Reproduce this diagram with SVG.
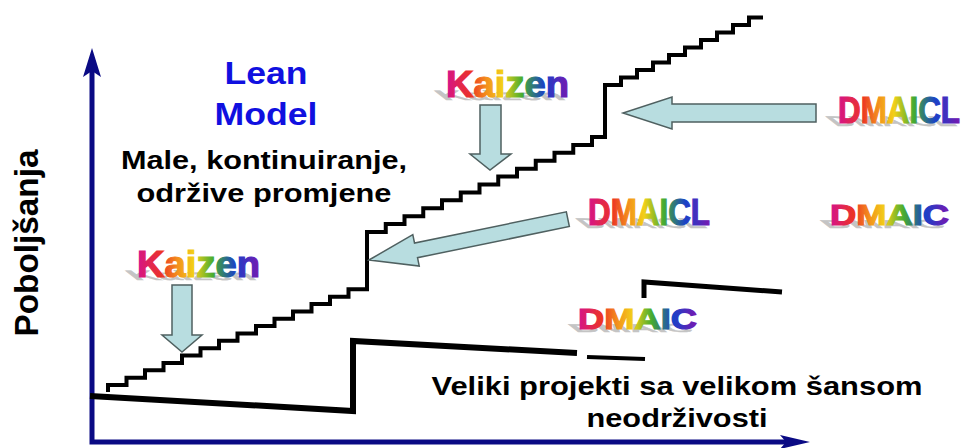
<svg xmlns="http://www.w3.org/2000/svg" xmlns:xlink="http://www.w3.org/1999/xlink" width="963" height="448" viewBox="0 0 963 448">
<defs>
<linearGradient id="rainbow" x1="0" y1="0" x2="1" y2="0">
<stop offset="0" stop-color="#d4128c"/>
<stop offset="0.2" stop-color="#ec3424"/>
<stop offset="0.33" stop-color="#f3901c"/>
<stop offset="0.46" stop-color="#f2d018"/>
<stop offset="0.62" stop-color="#46ac30"/>
<stop offset="0.8" stop-color="#1a40c8"/>
<stop offset="1" stop-color="#7818b0"/>
</linearGradient>
<style>
.axis{stroke:#0a0a84;stroke-width:5;fill:none;stroke-linejoin:miter}
.axhead{fill:#0a0a84}
.stair{fill:none;stroke:#000;stroke-width:4;stroke-linejoin:miter}
.proj{fill:none;stroke:#000;stroke-width:6;stroke-linejoin:miter}
.arrow{fill:#b8dde0;stroke:#4f6060;stroke-width:1.5;stroke-linejoin:miter}
.t{font-family:"Liberation Sans",Arial,sans-serif;font-weight:bold}
.black{fill:#000}
.blue{fill:#1010e0}
.rb{fill:url(#rainbow);stroke:url(#rainbow);stroke-width:1.2}
.sh{fill:#c4c4c4;stroke:#c4c4c4;stroke-width:1}
</style>
<text id="tKaizen" class="t" x="0" y="0" font-size="36" textLength="123" lengthAdjust="spacingAndGlyphs">Kaizen</text>
<text id="tDMAICL" class="t" x="0" y="0" font-size="37" textLength="122" lengthAdjust="spacingAndGlyphs">DMAICL</text>
<text id="tDMAIC" class="t" x="0" y="0" font-size="30" textLength="119" lengthAdjust="spacingAndGlyphs">DMAIC</text>
</defs>
<rect width="963" height="448" fill="#fff"/>

<g id="axes">
<path class="axis" d="M92,70 V442 H790"/>
<path class="axhead" d="M92,48 L101,77 L92,71 L83,77 Z"/>
<path class="axhead" d="M810,442 L780,435 L786,442 L780,449 Z"/>
</g>

<g id="y-label">
<text class="t black" transform="translate(37.5,243) rotate(-90)" text-anchor="middle" font-size="33" textLength="187" lengthAdjust="spacingAndGlyphs">Poboljšanja</text>
</g>

<g id="lean-model">
<text class="t blue" x="266" y="84" text-anchor="middle" font-size="31" textLength="83" lengthAdjust="spacingAndGlyphs">Lean</text>
<text class="t blue" x="266" y="125" text-anchor="middle" font-size="31" textLength="103" lengthAdjust="spacingAndGlyphs">Model</text>
</g>

<g id="lean-desc">
<text class="t black" x="264" y="169" text-anchor="middle" font-size="25" textLength="286" lengthAdjust="spacingAndGlyphs">Male, kontinuiranje,</text>
<text class="t black" x="264" y="202" text-anchor="middle" font-size="25" textLength="255" lengthAdjust="spacingAndGlyphs">održive promjene</text>
</g>

<g id="projects-desc">
<text class="t black" x="677" y="395" text-anchor="middle" font-size="26" textLength="491" lengthAdjust="spacingAndGlyphs">Veliki projekti sa velikom šansom</text>
<text class="t black" x="677" y="427" text-anchor="middle" font-size="26" textLength="181" lengthAdjust="spacingAndGlyphs">neodrživosti</text>
</g>

<g id="lean-staircase">
<path class="stair" d="M108,392 V385 h18.5 v-7.36 h18.5 v-7.36 h18.5 v-7.36 h18.5 v-7.36 h18.5 v-7.36 h18.5 v-7.36 h18.5 v-7.36 h18.5 v-7.36 h18.5 v-7.36 h18.5 v-7.36 h18.5 v-7.36 h18.5 v-7.36 h18.5 v-7.36 h18.5 V232 h18.75 v-7.92 h18.75 v-7.92 h18.75 v-7.92 h18.75 v-7.92 h18.75 v-7.92 h18.75 v-7.92 h18.75 v-7.92 h18.75 v-7.92 h18.75 v-7.92 h18.75 v-7.92 h18.75 v-7.92 h18.75 v-7.92 H605 V85 h16 v-7.5 h16 v-7.5 h16 v-7.5 h16 v-7.5 h16 v-7.5 h16 v-7.5 h16 v-7.5 h16 v-7.5 h16 v-7.5 h14"/>
</g>

<g id="dmaic-projects">
<polyline class="proj" points="90,396 353,411 353,341 577,353"/>
<line x1="587" y1="357" x2="645" y2="359" stroke="#000" stroke-width="4"/>
<polyline class="proj" style="stroke-width:5" points="644,298 644,282 782,292"/>
</g>

<g id="kaizen-1">
<use xlink:href="#tKaizen" class="sh" transform="translate(135,280) skewX(52) scale(1,0.38)"/>
<use xlink:href="#tKaizen" class="rb" transform="translate(137,277)"/>
</g>
<g id="kaizen-2">
<use xlink:href="#tKaizen" class="sh" transform="translate(444,100) skewX(52) scale(1,0.38)"/>
<use xlink:href="#tKaizen" class="rb" transform="translate(446,97)"/>
</g>
<g id="dmaicl-1">
<use xlink:href="#tDMAICL" class="sh" transform="translate(836,126) skewX(52) scale(1,0.38)"/>
<use xlink:href="#tDMAICL" class="rb" transform="translate(838,123)"/>
</g>
<g id="dmaicl-2">
<use xlink:href="#tDMAICL" class="sh" transform="translate(586,228) skewX(52) scale(1,0.38)"/>
<use xlink:href="#tDMAICL" class="rb" transform="translate(588,225)"/>
</g>
<g id="dmaic-1">
<use xlink:href="#tDMAIC" class="sh" transform="translate(828,228) skewX(52) scale(1,0.38)"/>
<use xlink:href="#tDMAIC" class="rb" transform="translate(830,225)"/>
</g>
<g id="dmaic-2">
<use xlink:href="#tDMAIC" class="sh" transform="translate(576,332) skewX(52) scale(1,0.38)"/>
<use xlink:href="#tDMAIC" class="rb" transform="translate(578,329)"/>
</g>

<g id="connectors">
<path class="arrow" d="M172,285 H192 V335 H202 L182,352 L162,335 H172 Z"/>
<path class="arrow" d="M480,105 H501 V154 H511 L490,170 L470,154 H480 Z"/>
<path class="arrow" d="M816,104 V122 H672 V129 L623,113 L672,97 V104 Z"/>
<path class="arrow" transform="translate(369,260) rotate(-11.6)" d="M0,0 L48,-16 V-7.5 H203 V7.5 H48 V16 Z"/>
</g>
</svg>
